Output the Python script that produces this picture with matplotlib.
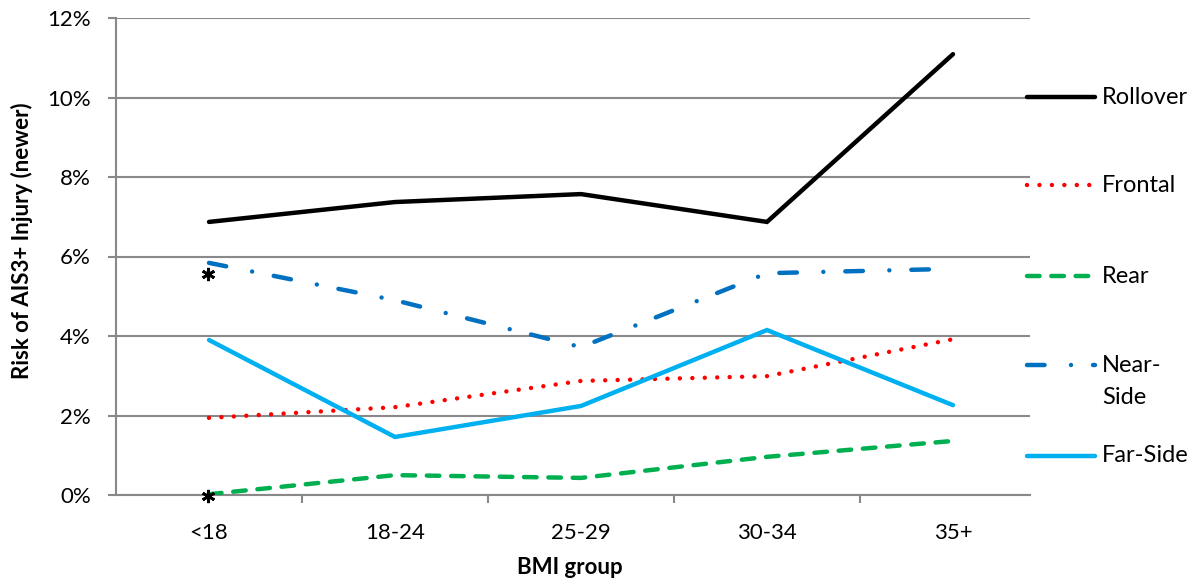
import matplotlib
matplotlib.use("Agg")
import matplotlib.pyplot as plt
from matplotlib.lines import Line2D
from matplotlib.ticker import FixedLocator, FuncFormatter
from matplotlib.transforms import offset_copy

categories = ["<18", "18-24", "25-29", "30-34", "35+"]
rollover = [6.87, 7.37, 7.57, 6.87, 11.09]
frontal = [1.94, 2.21, 2.87, 2.99, 3.92]
rear = [0.02, 0.50, 0.43, 0.96, 1.36]
near_side = [5.84, 4.90, 3.72, 5.58, 5.69]
far_side = [3.90, 1.46, 2.24, 4.15, 2.26]
series_names = ["Rollover", "Frontal", "Rear", "Near-\nSide", "Far-Side"]
star_points = [(0, 5.84), (0, 0.02)]
star_offsets_px = [-11, -2]

plt.rcParams['font.family'] = ['Lato', 'DejaVu Sans']

W, H = 1200, 588
fig = plt.figure(figsize=(12, 5.88), dpi=100)
ax = fig.add_axes([116 / W, 1 - 495 / H, (1030 - 116) / W, (495 - 18) / H])

grid_c = "#898989"
lw = 3.2
styles = [
    dict(color="black", linestyle="-", solid_capstyle="round"),
    dict(color="#FF0000", linestyle=(0, (0.001, 2.8)), dash_capstyle="round"),
    dict(color="#00B050", linestyle=(0, (2.83, 2.64)), dash_capstyle="round"),
    dict(color="#0070C0", linestyle=(0, (3.95, 5.95, 0.001, 4.95)), dash_capstyle="round"),
    dict(color="#00B0F0", linestyle="-", solid_capstyle="round"),
]
data = [rollover, frontal, rear, near_side, far_side]
x = list(range(len(categories)))
order = [4, 2, 1, 3, 0]
for i in order:
    ax.plot(x, data[i], lw=lw, zorder=3 + i, solid_joinstyle="miter", **styles[i])

for (xi, yi), off in zip(star_points, star_offsets_px):
    tr = offset_copy(ax.transData, fig=fig, x=-1, y=off, units="dots")
    ax.plot([xi], [yi], marker=(6, 2, 0), markersize=9.5, mew=2.0, color="black",
            transform=tr, zorder=10, clip_on=False, linestyle="none")

step = (1030 - 116) / 186.0
ax.set_xlim(-0.5, -0.5 + step)
ax.set_ylim(0, 12)
ax.set_yticks(range(0, 13, 2))
ax.yaxis.set_major_formatter(FuncFormatter(lambda v, p: f"{int(v)}%"))
ax.set_xticks(x)
ax.set_xticklabels(categories)
ax.xaxis.set_minor_locator(FixedLocator([i + 0.5 for i in range(len(categories) - 1)]))
ax.tick_params(axis="x", which="major", length=0, pad=20, labelsize=16)
ax.tick_params(axis="x", which="minor", length=6, width=1.5, color=grid_c, direction="out")
ax.tick_params(axis="y", length=6, width=1.5, color=grid_c, labelsize=16, pad=12)
ax.grid(axis="y", color=grid_c, lw=1.5, zorder=0)
for s in ["top", "right"]:
    ax.spines[s].set_visible(False)
for s in ["left", "bottom"]:
    ax.spines[s].set_color(grid_c)
    ax.spines[s].set_linewidth(1.5)
ax.set_axisbelow(True)

fig.text(570 / W, 1 - 568 / H, "BMI group",
         ha="center", va="center", fontsize=16, fontweight="bold")
fig.text(22 / W, 1 - 241 / H, "Risk of AIS3+ Injury (newer)", rotation=90,
         ha="center", va="center", fontsize=16, fontweight="bold")

# manual legend
leg_y = [97, 185, 276, 365, 456]
text_y = [97, 185, 276, 381.5, 456]
for i, yy in enumerate(leg_y):
    fy = 1 - yy / H
    fig.add_artist(Line2D([1027 / W, 1095 / W], [fy, fy], lw=lw, transform=fig.transFigure,
                          **styles[i]))
    fig.text(1102 / W, 1 - text_y[i] / H, series_names[i], ha="left", va="center",
             fontsize=17, linespacing=1.7)

fig.savefig("out.png", dpi=100, facecolor="white")
